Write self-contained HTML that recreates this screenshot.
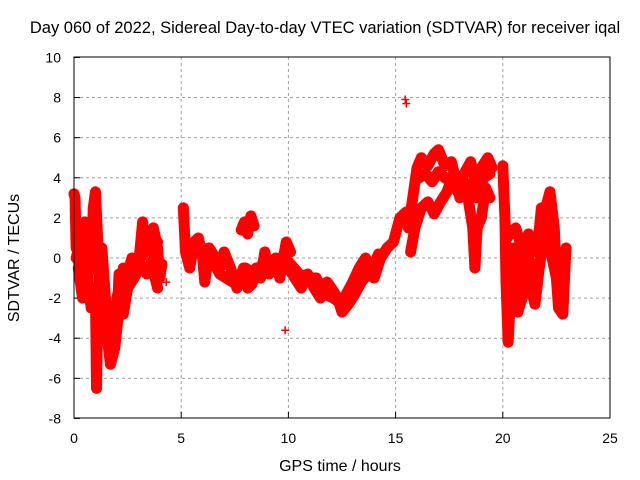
<!DOCTYPE html>
<html><head><meta charset="utf-8"><style>
body{margin:0;background:#fff}
svg{display:block;font-family:"Liberation Sans",sans-serif}
</style></head><body>
<svg id="c" width="640" height="480" xmlns="http://www.w3.org/2000/svg">
<rect width="640" height="480" fill="#fff"/>
<text x="325" y="33" font-size="16.5" text-anchor="middle">Day 060 of 2022, Sidereal Day-to-day VTEC variation (SDTVAR) for receiver iqal</text>
<text x="340" y="471" font-size="16" text-anchor="middle">GPS time / hours</text>
<text transform="translate(19,258) rotate(-90)" font-size="16" text-anchor="middle">SDTVAR / TECUs</text>
<g id="grid"></g><g id="marks"></g>
<rect x="74" y="57" width="536" height="361" fill="none" stroke="#000" stroke-width="1"/>
</svg>
<script>
const xTicks=[0,5,10,15,20,25];
const yTicks=[-8,-6,-4,-2,0,2,4,6,8,10];
const s1h=[0,0.05,0.1,0.2,0.3,0.4,0.5,0.6,0.7,0.8,0.9,1.0,1.1,1.2,1.3,1.4,1.5,1.6,1.7,1.8,1.9,2.0,2.1,2.2,2.3,2.4,2.6,2.8,3.0,3.2,3.3,3.5,3.7,3.9,4.0,4.1];
const s1v=[3.2,3.0,0.5,1.5,-1,0.5,1.8,-1.5,0,-0.5,2.5,3.3,1,-1.5,0.5,-1,-2.5,-4,-5.2,-3,-4,-3.5,-0.8,-2.5,-0.5,-1.5,-1,-0.5,-0.5,1.8,0.5,0.8,1.5,0.5,-1,-0.3];
const s2h=[0.2,0.4,0.6,0.8,1.0,1.05,1.1,1.3,1.5,1.7,1.9,2.1,2.3,2.5,2.8,3.1,3.4,3.6,3.9];
const s2v=[-0.5,-2,-0.5,-2.5,-1.5,-6.5,-3,-2,-3.5,-5.3,-4.5,-2.5,-2.8,-1.5,-1,-0.3,-0.8,-0.2,-1.5];
const s11h=[0.1,0.3,0.5,0.7,0.9,1.2,1.4,1.6,1.8,2.0,2.2,2.5,2.7,2.9,3.1,3.3,3.5,3.7,3.9];
const s11v=[0,0.8,-0.8,1.0,0.2,-0.5,-2.0,-2.5,-4.5,-2.0,-1.0,-0.8,0,-0.8,0,0.3,1.0,0.2,0.8];
const s3h=[5.1,5.2,5.4,5.6,5.8,6.0,6.1,6.3,6.6,6.8,7.0,7.3,7.6,7.9,8.1,8.3,8.5,8.7,8.9,9.1,9.4,9.6,9.9,10.1];
const s3v=[2.5,0.3,-0.5,0.8,1,0,-1.2,0.5,0,-0.5,0.3,-0.5,-1.5,-0.5,-1.5,-1.3,-0.5,-1,0.3,-0.8,0,-1,0.8,0.3];
const s12h=[5.3,5.6,5.9,6.2,6.5,6.8,7.1,7.4,7.7,8.0,8.4,8.8,9.2,9.6,10.0];
const s12v=[0.5,0.2,0.6,-0.5,-0.2,-0.8,-1.0,-1.2,-1.0,-0.5,-0.8,-0.3,-0.5,0,-0.2];
const s4h=[7.8,7.95,8.1,8.25,8.4];
const s4v=[1.4,1.8,1.2,2.1,1.6];
const s5h=[10.0,10.3,10.6,10.9,11.2,11.5,11.8,12.0,12.3,12.5,12.8,13.1,13.4,13.7,14.0,14.3,14.6,14.9,15.2,15.5];
const s5v=[-0.5,-1,-1.5,-0.8,-1.5,-2,-1.2,-1.5,-2,-2.7,-2.3,-1.8,-1.2,-0.8,-1,0,0.5,0.8,2,2.3];
const s13h=[10.1,10.5,10.9,11.3,11.7,12.1,12.5];
const s13v=[-0.3,-0.8,-1.0,-1.0,-1.8,-2.0,-2.3];
const s6h=[12.7,13.0,13.3,13.6,13.9,14.2];
const s6v=[-1.8,-1.2,-0.5,0,-0.6,0.2];
const s7h=[15.6,15.8,16.0,16.2,16.5,16.8,17.0,17.3,17.6,17.9,18.2,18.5,18.8,19.0,19.3,19.5];
const s7v=[1.5,3,4.5,5,4.6,5.2,5.4,4.6,4.8,3.5,4.2,4.8,3.5,4.5,5.0,4.5];
const s14h=[16.1,16.4,16.7,17.0,17.3,17.6,17.9,18.2,18.5,18.8,19.1,19.4];
const s14v=[4.0,4.2,3.8,4.3,4.0,3.8,3.3,3.8,3.5,3.0,4.0,4.2];
const s8h=[15.7,15.9,16.2,16.5,16.8,17.1,17.4,17.7,18.0,18.3,18.6,18.7,18.8,19.0,19.2,19.4];
const s8v=[0.3,1.5,2.5,2.8,2.2,2.8,3.3,4.2,3.0,3.5,1.5,-0.5,1.5,2.0,3.5,3.0];
const s9h=[20.0,20.1,20.15,20.25,20.35,20.5,20.6,20.7,20.9,21.0,21.2,21.3,21.5,21.7,21.9,22.0,22.2,22.4,22.5,22.6,22.8,22.9,22.95];
const s9v=[4.6,2,-1.2,-4.2,-2,0.5,-1.0,-2.7,-2.0,1.0,0.7,-1.5,-2.3,-0.5,1.0,2.5,3.3,1.5,-1,-2.5,-2.8,-0.5,0.5];
const s10h=[20.2,20.4,20.6,20.8,21.0,21.2,21.4,21.6,21.8,22.0,22.2,22.4,22.6,22.8];
const s10v=[1.0,1.3,1.5,0.8,0,1.2,0.5,0.3,2.5,1.5,0.5,-0.5,-1.5,-1.5];
const outH=[9.85,15.45,15.5,4.3];
const outV=[-3.6,7.9,7.7,-1.2];
const NS="http://www.w3.org/2000/svg";
const X=h=>74+h*536/25, Y=v=>258-v*361/18;
const grid=document.getElementById('grid'), marks=document.getElementById('marks');
function mk(t,a,p){const e=document.createElementNS(NS,t);for(const k in a)e.setAttribute(k,a[k]);p.appendChild(e);return e;}
xTicks.forEach(t=>{
 if(t>0&&t<25){const l=mk('line',{x1:X(t),x2:X(t),y1:57,y2:418,stroke:'#a0a0a0','stroke-dasharray':'3,3'},grid);
 
 }
 mk('line',{x1:X(t),x2:X(t),y1:418,y2:412,stroke:'#000'},grid);
 const tx=mk('text',{x:X(t),y:443,'font-size':14,'text-anchor':'middle'},grid);tx.textContent=t;
 
 
});
yTicks.forEach(t=>{
 if(t>-8&&t<10){const l=mk('line',{x1:74,x2:610,y1:Y(t),y2:Y(t),stroke:'#a0a0a0','stroke-dasharray':'3,3'},grid);
 
 }
 mk('line',{x1:74,x2:80,y1:Y(t),y2:Y(t),stroke:'#000'},grid);
 const tx=mk('text',{x:61,y:Y(t)+5,'font-size':14,'text-anchor':'end'},grid);tx.textContent=t;
 
 
});
function series(H,V,name,band){
 if(band){const pl=mk('polyline',{points:H.map((h,i)=>X(h)+','+Y(V[i])).join(' '),fill:'none',stroke:'#f00','stroke-width':11,'stroke-linejoin':'round','stroke-linecap':'round'},marks);
 
 }
 H.forEach((h,i)=>{const x=X(h),y=Y(V[i]);
  const p=mk('path',{d:`M${x-4},${y}h8M${x},${y-4}v8`,stroke:'#f00','stroke-width':1.5},marks);
  
  });
}
series(s1h,s1v,'series-a',true);series(s2h,s2v,'series-b',true);series(s11h,s11v,'series-k',true);
series(s3h,s3v,'series-c',true);series(s12h,s12v,'series-l',true);series(s4h,s4v,'series-d',true);
series(s5h,s5v,'series-e',true);series(s13h,s13v,'series-m',true);series(s6h,s6v,'series-f',true);
series(s7h,s7v,'series-g',true);series(s14h,s14v,'series-n',true);series(s8h,s8v,'series-h',true);
series(s9h,s9v,'series-i',true);series(s10h,s10v,'series-j',true);
series(outH,outV,'outlier',false);
</script>
</body></html>
